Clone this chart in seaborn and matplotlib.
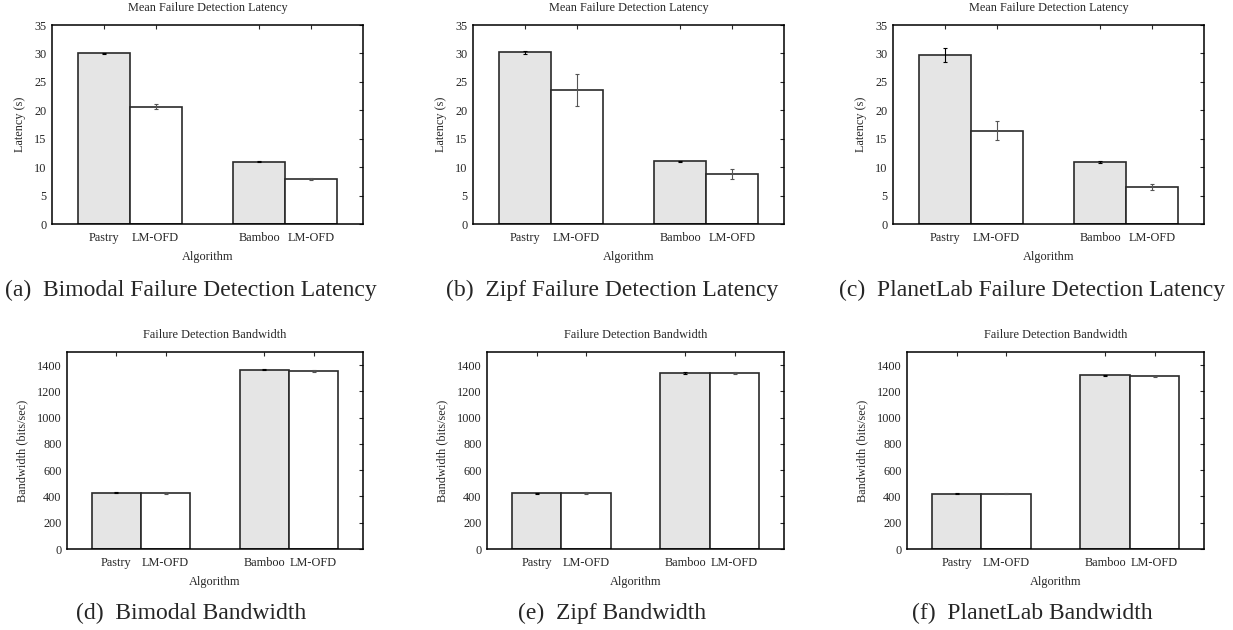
import matplotlib
matplotlib.use('Agg')
import matplotlib.pyplot as plt
import seaborn as sns
import pandas as pd

# bar labels (two groups: Pastry vs LM-OFD, Bamboo vs LM-OFD)
algos = ['Pastry', 'LM-OFD', 'Bamboo', 'LM-OFD']
kinds = ['base', 'ofd', 'base', 'ofd']

lat_bimodal = [30.0, 20.6, 10.95, 7.9]
lat_bimodal_err = [0.15, 0.45, 0.1, 0.2]
lat_zipf = [30.2, 23.5, 11.0, 8.8]
lat_zipf_err = [0.3, 2.8, 0.1, 0.9]
lat_planetlab = [29.7, 16.4, 10.9, 6.5]
lat_planetlab_err = [1.2, 1.7, 0.2, 0.6]

bw_bimodal = [430, 428, 1365, 1357]
bw_bimodal_err = [4, 8, 5, 8]
bw_zipf = [426, 426, 1340, 1340]
bw_zipf_err = [4, 6, 4, 6]
bw_planetlab = [421, 421, 1322, 1315]
bw_planetlab_err = [4, 6, 4, 6]

captions = ['(a)  Bimodal Failure Detection Latency', '(b)  Zipf Failure Detection Latency',
            '(c)  PlanetLab Failure Detection Latency', '(d)  Bimodal Bandwidth',
            '(e)  Zipf Bandwidth', '(f)  PlanetLab Bandwidth']

sns.set_style('white')
plt.rcParams.update({'font.family': ['Liberation Serif', 'DejaVu Serif'], 'font.size': 8.8})

fig = plt.figure(figsize=(12.33, 6.3), dpi=100)

W = 1233.0
H = 630.0
FS = 8.8


def panel(rect, vals, errs, title, ylabel, ylim, yticks):
    l, t, r, b = rect
    ax = fig.add_axes([l / W, 1 - b / H, (r - l) / W, (b - t) / H])
    keys = [f'{a}_{i}' for i, a in enumerate(algos)]
    order = [keys[0], keys[1], 'gap', keys[2], keys[3]]
    df = pd.DataFrame({'key': keys, 'val': vals, 'kind': kinds})
    sns.barplot(data=df, x='key', y='val', hue='kind', order=order, dodge=False,
                palette={'base': '#e5e5e5', 'ofd': 'white'}, edgecolor='#2a2a2a',
                linewidth=1.2, width=1.0, errorbar=None, legend=False, ax=ax)
    for k, v, e, kd in zip(keys, vals, errs, kinds):
        c = 'black' if kd == 'base' else '#555555'
        ax.errorbar(order.index(k), v, yerr=e, fmt='none', ecolor=c, elinewidth=0.8,
                    capsize=1.5, capthick=0.8, zorder=5)
    ax.set_xlim(-1, 5)
    ax.set_ylim(*ylim)
    ax.set_yticks(yticks)
    ax.set_xticks([0, 1, 3, 4])
    ax.set_xticklabels(algos)
    ax.tick_params(direction='in', top=True, right=True, length=3, width=0.8,
                   labelsize=FS, pad=4)
    ax.tick_params(axis='x', length=3, pad=6)
    for s in ax.spines.values():
        s.set_linewidth(1.1)
        s.set_color('black')
    ax.set_title(title, fontsize=FS, pad=10)
    ax.set_xlabel('Algorithm', fontsize=FS, labelpad=5)
    ax.set_ylabel(ylabel, fontsize=FS, labelpad=6)
    return ax


top = (25, 224)
bot = (352, 549)
lat_title = 'Mean Failure Detection Latency'
bw_title = 'Failure Detection Bandwidth'
lat_ticks = list(range(0, 36, 5))
bw_ticks = list(range(0, 1401, 200))

panel((52, top[0], 363, top[1]), lat_bimodal, lat_bimodal_err, lat_title, 'Latency (s)', (0, 35), lat_ticks)
panel((473, top[0], 784, top[1]), lat_zipf, lat_zipf_err, lat_title, 'Latency (s)', (0, 35), lat_ticks)
panel((893, top[0], 1204, top[1]), lat_planetlab, lat_planetlab_err, lat_title, 'Latency (s)', (0, 35), lat_ticks)
panel((67, bot[0], 363, bot[1]), bw_bimodal, bw_bimodal_err, bw_title, 'Bandwidth (bits/sec)', (0, 1500), bw_ticks)
panel((487, bot[0], 784, bot[1]), bw_zipf, bw_zipf_err, bw_title, 'Bandwidth (bits/sec)', (0, 1500), bw_ticks)
panel((907, bot[0], 1204, bot[1]), bw_planetlab, bw_planetlab_err, bw_title, 'Bandwidth (bits/sec)', (0, 1500), bw_ticks)

cap_x = [191, 612, 1032]
for i, cap in enumerate(captions):
    y = 290 if i < 3 else 613
    fig.text(cap_x[i % 3] / W, 1 - y / H, cap, ha='center', va='center', fontsize=17)

fig.savefig('out.png', dpi=100)
